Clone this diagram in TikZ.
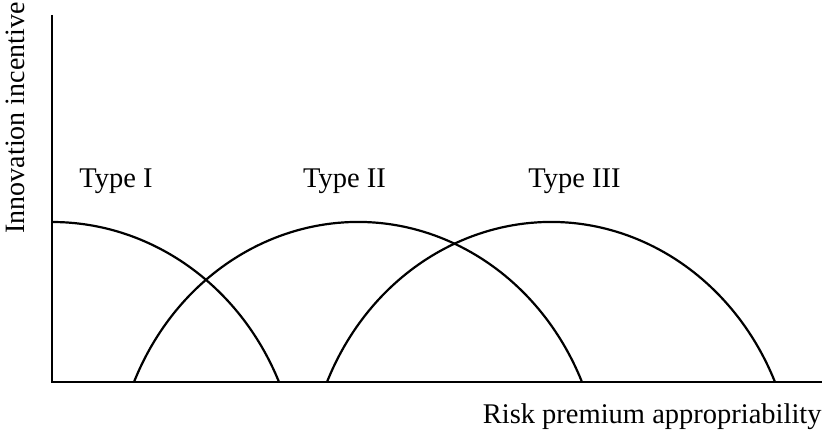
\documentclass[tikz,border=0pt]{standalone}
\usepackage{fontspec}
\setmainfont{Liberation Serif}
\begin{document}
\begin{tikzpicture}[x=0.5pt,y=0.5pt,
  axisline/.style={line width=1.25pt},
  curve/.style={line width=1.1pt},
  lbl/.style={font=\fontsize{14.25}{17}\selectfont, inner sep=0pt, anchor=base}]
\useasboundingbox (0,0) rectangle (828,434);
% axes
\coordinate (origin) at (52,52);
\coordinate (ytop) at (52,419);
\coordinate (xend) at (822,52);
\draw[axisline] (ytop) -- (origin) -- (xend);
% three elliptic profiles, each a segment whose centre lies below the axis
\draw[curve] (52,212) arc[start angle=90, end angle=23.58, x radius=247.7, y radius=266.7];
\draw[curve] (134,52) arc[start angle=156.42, end angle=23.58, x radius=244.4, y radius=266.7];
\draw[curve] (327,52) arc[start angle=156.42, end angle=23.58, x radius=244.4, y radius=266.7];
% labels
\node[lbl] (t1) at (116,246) {Type I};
\node[lbl] (t2) at (344.5,246) {Type II};
\node[lbl] (t3) at (574.5,246) {Type III};
\node[lbl, anchor=base east] (xl) at (822,11) {Risk premium appropriability};
\node[lbl, rotate=90, font=\fontsize{14}{17}\selectfont] (yl) at (25,316) {Innovation incentive};
\end{tikzpicture}
\end{document}
